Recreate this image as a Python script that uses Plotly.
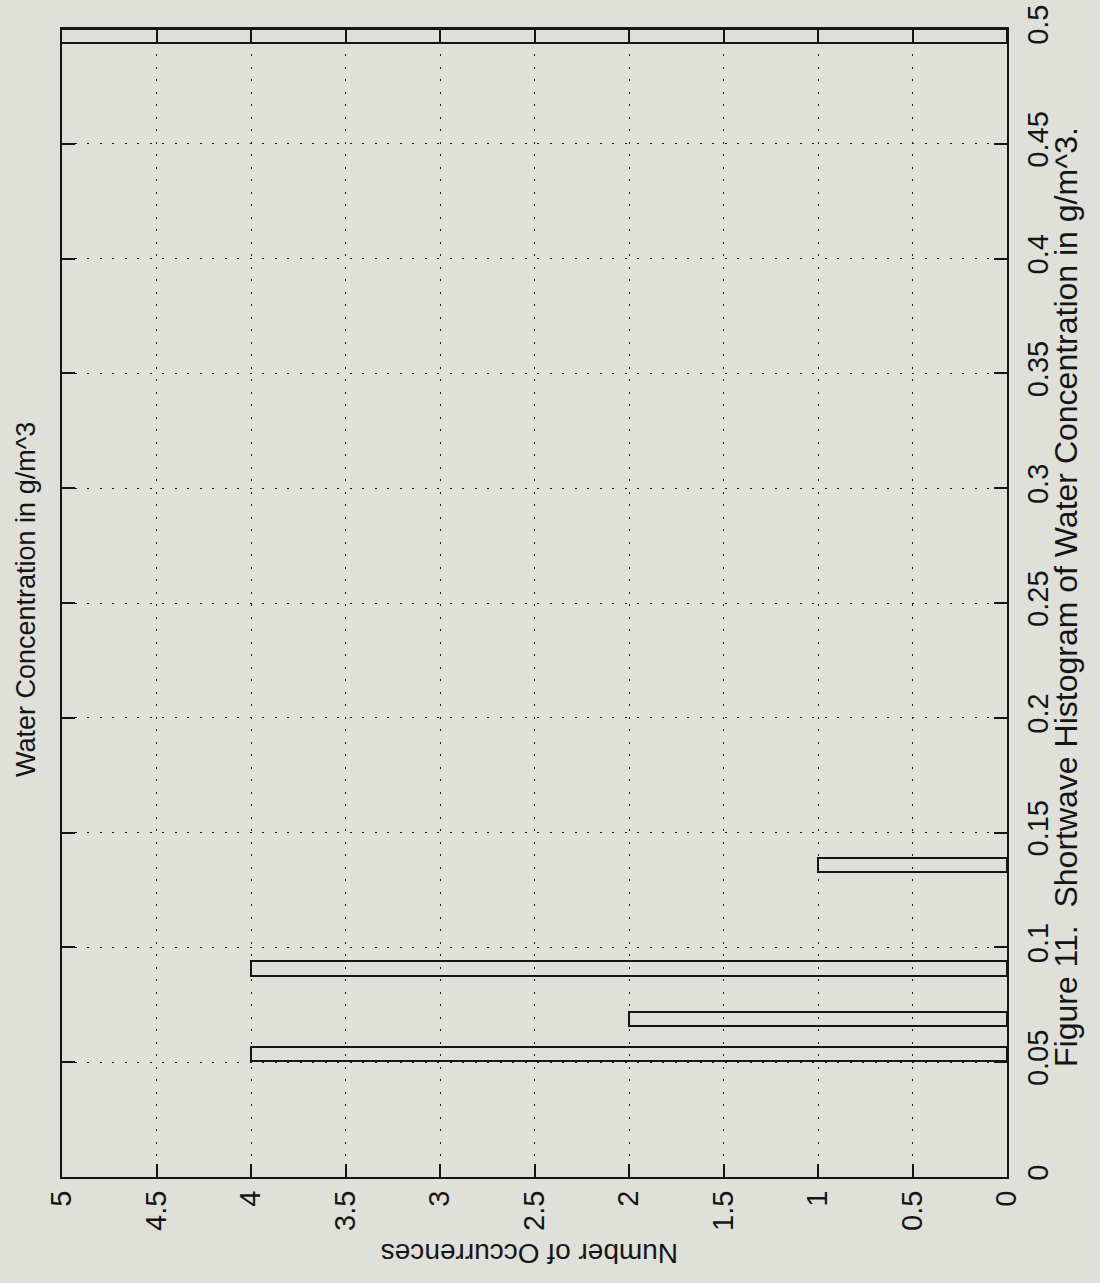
import plotly.graph_objects as go

# Histogram of water concentration (g/m^3), drawn sideways:
# concentration runs up the right-hand axis, counts run right-to-left.
bin_centers = [0.0536, 0.0687, 0.0908, 0.1358, 0.4970]
counts = [4, 2, 4, 1, 6]          # last bin runs off the top of the count scale
bar_width = 0.0062

conc_ticks = [0, 0.05, 0.1, 0.15, 0.2, 0.25, 0.3, 0.35, 0.4, 0.45, 0.5]
conc_labels = ["0", "0.05", "0.1", "0.15", "0.2", "0.25", "0.3", "0.35", "0.4", "0.45", "0.5"]
count_ticks = [5, 4.5, 4, 3.5, 3, 2.5, 2, 1.5, 1, 0.5, 0]
count_labels = ["5", "4.5", "4", "3.5", "3", "2.5", "2", "1.5", "1", "0.5", "0"]

title_text = "Water Concentration in g/m^3"
count_title = "Number of Occurrences"
caption_text = "Figure 11.  Shortwave Histogram of Water Concentration in g/m^3."

PAPER = "rgb(224,224,218)"
INK = "#151515"
FONT = "Liberation Sans, Arial, Helvetica, sans-serif"

W, H = 1100, 1283
L, R, T, B = 62, 1007, 29, 1177


def px(x):
    return (x - L) / (R - L)


def py(y):
    return (B - y) / (B - T)


fig = go.Figure(
    go.Bar(
        orientation="h",
        y=bin_centers,
        x=counts,
        width=bar_width,
        marker=dict(color="rgba(0,0,0,0)", line=dict(color=INK, width=2)),
        hoverinfo="skip",
    )
)

axis_common = dict(
    automargin=False,
    showline=True,
    linecolor=INK,
    linewidth=2,
    mirror="ticks",
    ticks="inside",
    ticklen=13,
    tickwidth=1.5,
    tickcolor=INK,
    showgrid=True,
    gridcolor=INK,
    gridwidth=1,
    griddash="2px,10.5px",
    zeroline=False,
    tickfont=dict(family=FONT, size=29, color=INK),
    tickangle=-90,
)

fig.update_xaxes(
    range=[5, 0],
    tickmode="array",
    tickvals=count_ticks,
    ticktext=count_labels,
    **axis_common,
)
fig.update_yaxes(
    range=[0, 0.5],
    side="right",
    tickmode="array",
    tickvals=conc_ticks,
    ticktext=conc_labels,
    ticklabelstandoff=4,
    **axis_common,
)

fig.update_layout(
    width=W,
    height=H,
    margin=dict(l=L, r=W - R, t=T, b=H - B),
    paper_bgcolor=PAPER,
    plot_bgcolor=PAPER,
    showlegend=False,
    bargap=0,
    annotations=[
        dict(
            text=title_text, textangle=-90,
            x=px(26), y=py(600), xref="paper", yref="paper",
            xanchor="center", yanchor="middle", showarrow=False,
            font=dict(family=FONT, size=27, color=INK),
        ),
        dict(
            text=count_title, textangle=180,
            x=px(530), y=py(1253), xref="paper", yref="paper",
            xanchor="center", yanchor="middle", showarrow=False,
            font=dict(family=FONT, size=28, color=INK),
        ),
        dict(
            text=caption_text, textangle=-90,
            x=px(1066), y=py(597), xref="paper", yref="paper",
            xanchor="center", yanchor="middle", showarrow=False,
            font=dict(family=FONT, size=32, color=INK),
        ),
    ],
)

fig.write_html("out.html")
